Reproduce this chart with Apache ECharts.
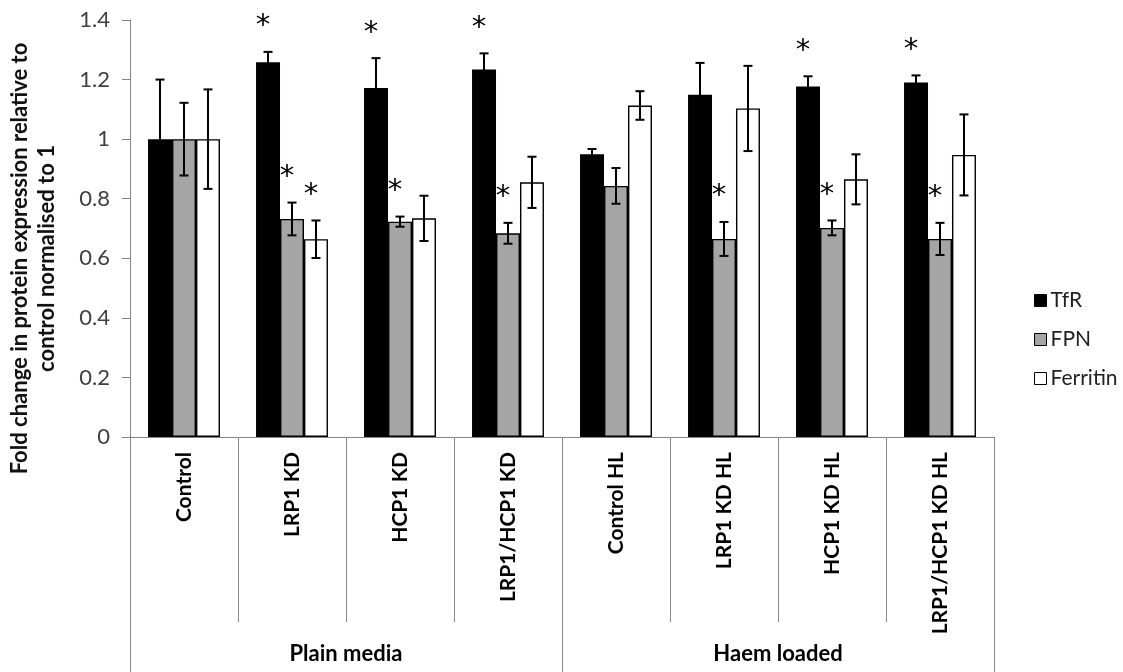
<!DOCTYPE html>
<html>
<head>
<meta charset="utf-8">
<script src="https://cdn.jsdelivr.net/npm/echarts@6/dist/echarts.min.js"></script>
<style>html,body{margin:0;padding:0;background:#fff;}#c{width:1123px;height:672px;}</style>
</head>
<body>
<div id="c"></div>
<script>
const categories = ['Control','LRP1 KD','HCP1 KD','LRP1/HCP1 KD','Control HL','LRP1 KD HL','HCP1 KD HL','LRP1/HCP1 KD HL'];
const groups = ['Plain media','Haem loaded'];
const seriesNames = ['TfR','FPN','Ferritin'];
const tfr = [1.00,1.258,1.172,1.234,0.949,1.149,1.177,1.190];
const tfrErr = [0.20,0.035,0.10,0.054,0.018,0.107,0.034,0.024];
const fpn = [1.00,0.732,0.723,0.684,0.843,0.665,0.702,0.665];
const fpnErr = [0.122,0.055,0.017,0.035,0.06,0.057,0.025,0.054];
const ferritin = [1.00,0.664,0.734,0.855,1.113,1.103,0.865,0.947];
const ferritinErr = [0.167,0.063,0.076,0.086,0.048,0.143,0.084,0.136];
const tfrSig = [0,1,1,1,0,0,1,1];
const fpnSig = [0,1,1,1,0,1,1,1];
const ferritinSig = [0,1,0,0,0,0,0,0];
const yMin = 0, yMax = 1.4, yInterval = 0.2;
const yTitle = 'Fold change in protein expression relative to\ncontrol normalised to 1';

const BAR_RATIO = 0.222;
const AXIS_GRAY = '#868686';

function errRender(offsetIdx){
  return function(params, api){
    const c = api.value(0), v = api.value(1), e = api.value(2), s = api.value(3);
    const band = api.size([1,0])[0];
    const bw = band * BAR_RATIO;
    const x = api.coord([c, v])[0] + (offsetIdx - 1) * bw;
    const yT = api.coord([c, v + e])[1];
    const yB = api.coord([c, v - e])[1];
    const cap = 4.5;
    const st = {stroke:'#000', lineWidth:2};
    const children = [
      {type:'line', shape:{x1:x, y1:yT, x2:x, y2:yB}, style:st},
      {type:'line', shape:{x1:x-cap, y1:yT, x2:x+cap, y2:yT}, style:st},
      {type:'line', shape:{x1:x-cap, y1:yB, x2:x+cap, y2:yB}, style:st}
    ];
    if (s) {
      children.push({type:'text', x: x - 5, y: yT - 25,
        style:{text:'*', fill:'#000', fontSize:29, fontFamily:'DejaVu Sans', align:'center', verticalAlign:'middle', textAlign:'center', textVerticalAlign:'middle'}});
    }
    return {type:'group', children};
  };
}
function errData(vals, errs, sig){ return vals.map((v,i)=>[i, v, errs[i], sig[i]]); }

const colors = ['#000000','#a5a5a5','#ffffff'];
const vals = [tfr, fpn, ferritin];
const errs = [tfrErr, fpnErr, ferritinErr];
const sigs = [tfrSig, fpnSig, ferritinSig];

const series = [];
for (let k=0;k<3;k++){
  series.push({
    name: seriesNames[k], type:'bar', data: vals[k], barWidth: (BAR_RATIO*100)+'%', barGap:'0%',
    itemStyle:{color: colors[k], borderColor:'#000', borderWidth: k===0?0:1.4},
    silent:true
  });
}
for (let k=0;k<3;k++){
  series.push({
    type:'custom', renderItem: errRender(k), data: errData(vals[k], errs[k], sigs[k]),
    encode:{x:0, y:1}, z:5, silent:true, clip:false
  });
}

const chart = echarts.init(document.getElementById('c'), null, {renderer:'canvas'});
chart.setOption({
  animation:false,
  backgroundColor:'#fff',
  grid:{left:130, right:129, top:20, bottom:235, containLabel:false, outerBoundsMode:'none'},
  legend:{
    orient:'vertical', left:1029, top:285, itemWidth:12, itemHeight:12, itemGap:18,
    data: seriesNames.map((n,i)=>({name:n, icon:'rect', itemStyle:{color:colors[i], borderColor:'#000', borderWidth:1}})),
    textStyle:{fontFamily:'Lato', fontSize:21, color:'#222', padding:[0,0,0,-1]}
  },
  xAxis:[{
    type:'category', data:categories, position:'bottom',
    axisLine:{show:true, lineStyle:{color:AXIS_GRAY, width:1}},
    axisTick:{show:true, length:185, lineStyle:{color:AXIS_GRAY, width:1}},
    axisLabel:{interval:0, rotate:90, margin:15, fontFamily:'Lato', fontWeight:'bold', fontSize:21, color:'#000'}
  },{
    type:'category', data:groups, position:'bottom',
    axisLine:{show:false},
    axisTick:{show:true, length:235, lineStyle:{color:AXIS_GRAY, width:1}},
    axisLabel:{interval:0, margin:206, fontFamily:'Lato', fontWeight:'bold', fontSize:22, color:'#000'}
  }],
  yAxis:{
    type:'value', min:yMin, max:yMax, interval:yInterval,
    axisLine:{show:true, lineStyle:{color:AXIS_GRAY, width:1}},
    axisTick:{show:true, length:8, lineStyle:{color:AXIS_GRAY}},
    splitLine:{show:false},
    axisLabel:{margin:20, fontFamily:'Lato', fontSize:22, color:'#404040'},
    name: yTitle, nameLocation:'middle', nameRotate:90, nameGap:70,
    nameTextStyle:{fontFamily:'Lato', fontWeight:'bold', fontSize:22, color:'#111', lineHeight:27, padding:[0,60,0,0]}
  },
  series
});
</script>
</body>
</html>
